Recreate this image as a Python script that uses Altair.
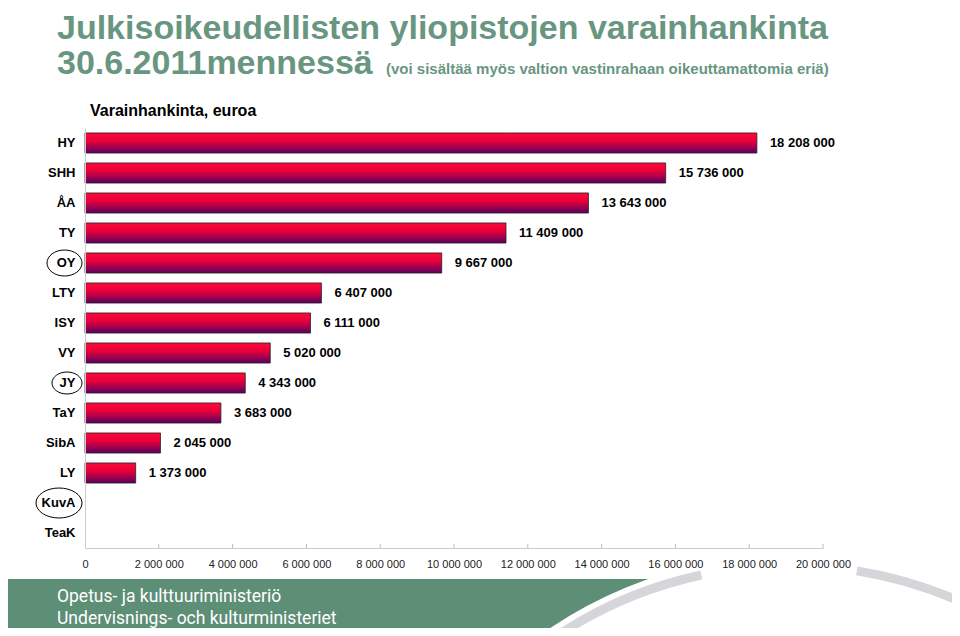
import altair as alt
import pandas as pd

# ---- data ----
categories = ["HY", "SHH", "ÅA", "TY", "OY", "LTY", "ISY", "VY", "JY", "TaY", "SibA", "LY", "KuvA", "TeaK"]
values = [18208000, 15736000, 13643000, 11409000, 9667000, 6407000, 6111000,
          5020000, 4343000, 3683000, 2045000, 1373000, 0, 0]
circled = ["OY", "JY", "KuvA"]
x_ticks = list(range(0, 20000001, 2000000))

title_line1 = "Julkisoikeudellisten yliopistojen varainhankinta"
title_line2 = "30.6.2011mennessä"
title_note = "(voi sisältää myös valtion vastinrahaan oikeuttamattomia eriä)"
subtitle = "Varainhankinta, euroa"
footer_lines = ["Opetus- ja kulttuuriministeriö", "Undervisnings- och kulturministeriet"]

# ---- styles ----
W, H = 738, 420
FONT = "Liberation Sans, Arial, sans-serif"
TITLE_GREEN = "#689680"
BANNER_GREEN = "#5d8e76"
# ellipse: (center x offset in px from plot left, width, height)
ellipse_style = {"OY": (-20.5, 35, 26), "JY": (-18, 30, 22), "KuvA": (-26, 46, 30)}

df = pd.DataFrame({"cat": categories, "value": values})
df["label"] = [f"{v:,}".replace(",", " ") for v in values]
nonzero = df[df["value"] > 0]
ticks_df = pd.DataFrame({"t": x_ticks[1:]})
one = pd.DataFrame({"a": [0]})

x_enc = alt.X(
    "value:Q",
    scale=alt.Scale(domain=[0, 20000000], nice=False),
    axis=alt.Axis(values=x_ticks,
                  labelExpr="replace(format(datum.value, ','), regexp(',', 'g'), ' ')",
                  title=None, grid=False, ticks=False, labelPadding=10,
                  labelOverlap=False, labelBound=False, labelFlush=False,
                  domainColor="#cccccc", labelFontSize=11, labelColor="#222222",
                  labelFont=FONT, zindex=1),
)
y_enc = alt.Y(
    "cat:N",
    scale=alt.Scale(domain=categories, paddingInner=0.33, paddingOuter=0.165),
    axis=alt.Axis(title=None, ticks=False, labelPadding=10, labelFontWeight="bold",
                  labelFontSize=13, labelColor="black", domainColor="#cccccc",
                  labelFont=FONT, zindex=1),
)

grad = alt.LinearGradient(
    gradient="linear", x1=0, y1=0, x2=0, y2=1,
    stops=[alt.GradientStop(color="#ff0a3a", offset=0),
           alt.GradientStop(color="#e8003a", offset=0.4),
           alt.GradientStop(color="#5a0060", offset=1)],
)

bars = alt.Chart(nonzero).mark_bar(fill=grad, stroke="#222222", strokeWidth=0.8).encode(
    x=x_enc, y=y_enc
)
labels = alt.Chart(nonzero).mark_text(
    align="left", baseline="middle", dx=13, fontWeight="bold", fontSize=13,
    font=FONT, color="black"
).encode(x="value:Q", y="cat:N", text="label:N")

tick_marks = alt.Chart(ticks_df).mark_rule(color="#bbbbbb", strokeWidth=1).encode(
    x="t:Q", y=alt.value(416), y2=alt.value(420)
)

ellipses = []
for c in circled:
    cx, ew, eh = ellipse_style[c]
    r = eh / ew
    path = f"M-1,0A1,{r:.3f},0,1,1,1,0A1,{r:.3f},0,1,1,-1,0Z"
    ellipses.append(
        alt.Chart(df[df["cat"] == c]).mark_point(
            shape=path, size=ew * ew, filled=False, stroke="black",
            strokeWidth=1, opacity=1
        ).encode(x=alt.value(cx), y="cat:N")
    )

def txt(text, x, y, size, color, weight="bold", font=FONT):
    return alt.Chart(one).mark_text(
        text=text, align="left", baseline="alphabetic", fontSize=size,
        fontWeight=weight, color=color, font=font
    ).encode(x=alt.value(x), y=alt.value(y))

# decorative footer banner with curved swoosh
banner = alt.Chart(one).mark_rect(color=BANNER_GREEN).encode(
    x=alt.value(-77), x2=alt.value(640), y=alt.value(451), y2=alt.value(510)
)
white_disc = alt.Chart(one).mark_arc(
    radius=430, radius2=0, theta=0, theta2=6.2832, color="white"
).encode(x=alt.value(705), y=alt.value(857))
swoosh_left = alt.Chart(one).mark_arc(
    radius=424, radius2=415, theta=5.55, theta2=6.07, color="#d6d6da"
).encode(x=alt.value(705), y=alt.value(857))
swoosh_right = alt.Chart(one).mark_arc(
    radius=424, radius2=415, theta=0.16, theta2=0.6, color="#d6d6da"
).encode(x=alt.value(705), y=alt.value(857))

FOOT_FONT = "Roboto, Liberation Sans, sans-serif"
texts = [
    txt(title_line1, -28, -89, 34, TITLE_GREEN),
    txt(title_line2, -28, -54, 34, TITLE_GREEN),
    txt(title_note, 301, -54, 15, TITLE_GREEN),
    txt(subtitle, 5, -12, 16, "black"),
    txt(footer_lines[0], -28, 474, 17.5, "white", "normal", FOOT_FONT),
    txt(footer_lines[1], -28, 496, 17.5, "white", "normal", FOOT_FONT),
]

chart = alt.layer(banner, white_disc, swoosh_left, swoosh_right, tick_marks, bars, labels,
                  *ellipses, *texts).properties(
    width=W, height=H,
    autosize=alt.AutoSizeParams(type="none"),
    padding={"left": 77, "top": 120, "right": 129, "bottom": 80},
).configure_view(stroke=None)

chart.save("out.html", embed_options={"renderer": "svg", "actions": False})
